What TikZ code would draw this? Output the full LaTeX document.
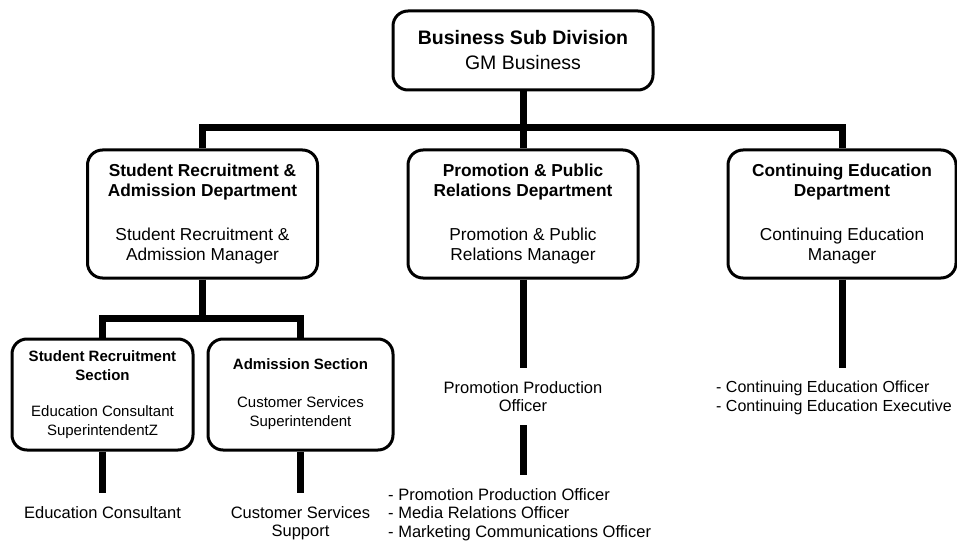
\documentclass[tikz,border=0pt]{standalone}
\usepackage{fontspec}
\setmainfont{Liberation Sans}
\usetikzlibrary{positioning}

\begin{document}
\begin{tikzpicture}[x=1pt, y=-1pt,
  box/.style = {draw, line width=3pt, rounded corners=15pt, fill=white, align=center, inner sep=0pt},
  dept/.style = {box, minimum width=230pt, minimum height=128pt, font=\fontsize{17.3}{20.5}\selectfont},
  sect/.style = {box, minimum height=111pt, font=\fontsize{15}{19}\selectfont},
  leaf/.style = {align=center, inner xsep=0pt, inner ysep=13pt, font=\fontsize{16.5}{18.5}\selectfont},
  conn/.style = {line width=7pt}]
\useasboundingbox (0,0) rectangle (957,540);

\node[box, minimum width=260pt, minimum height=79pt, font=\fontsize{19.5}{25}\selectfont] (gm) at (523,50.5) {\textbf{Business Sub Division}\\GM Business};

\node[dept] (sra) at (202.5,214) {\textbf{Student Recruitment \&}\\\textbf{Admission Department}\\[23pt]Student Recruitment \&\\Admission Manager};
\node[dept] (ppr) at (523,214) {\textbf{Promotion \& Public}\\\textbf{Relations Department}\\[23pt]Promotion \& Public\\Relations Manager};
\node[dept, minimum width=228pt] (ced) at (842,214) {\textbf{Continuing Education}\\\textbf{Department}\\[23pt]Continuing Education\\Manager};

\node[sect, minimum width=181pt] (srs) at (102.5,394.5) {\textbf{Student Recruitment}\\\textbf{Section}\\[17pt]Education Consultant\\SuperintendentZ};
\node[sect, minimum width=185pt] (adm) at (300.5,394.5) {\textbf{Admission Section}\\[19pt]Customer Services\\Superintendent};

\node[leaf, anchor=north] (edc) at (102.5,493) {Education Consultant};
\node[leaf, anchor=north] (css) at (300.5,493) {Customer Services\\Support};
\node[leaf, anchor=north] (ppo) at (523,368) {Promotion Production\\Officer};
\node[leaf, align=left, anchor=north west] (pplist) at (388,475) {- Promotion Production Officer\\- Media Relations Officer\\- Marketing Communications Officer};
\node[leaf, align=left, anchor=north west, font=\fontsize{16}{18.5}\selectfont] (celist) at (716,368) {- Continuing Education Officer\\- Continuing Education Executive};

\coordinate (bus) at (523,128);
\coordinate (subbus) at (202.5,318);

\draw[conn] (gm) -- (ppr);
\draw[conn] (sra.north) -- (sra.north |- bus) -- (ced.north |- bus) -- (ced.north);
\draw[conn] (sra) -- (sra.south |- subbus);
\draw[conn] (srs.north) -- (srs.north |- subbus) -- (adm.north |- subbus) -- (adm.north);
\draw[conn] (srs) -- (edc);
\draw[conn] (adm) -- (css);
\draw[conn] (ppr) -- (ppo);
\draw[conn] (ppo.south) -- (ppo.south |- pplist.north);
\draw[conn] (ced.south) -- (ced.south |- celist.north);
\end{tikzpicture}
\end{document}
